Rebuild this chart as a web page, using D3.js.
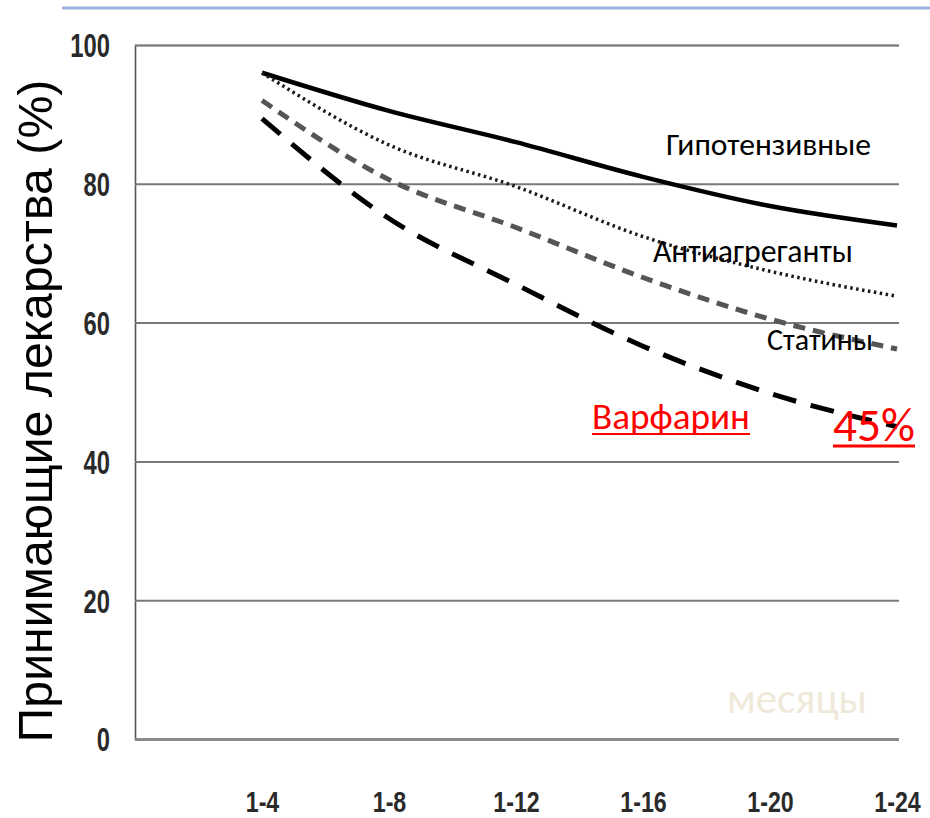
<!DOCTYPE html>
<html>
<head>
<meta charset="utf-8">
<script src="https://cdn.jsdelivr.net/npm/d3@7"></script>
<style>
  html, body { margin: 0; padding: 0; background: #fff; }
  svg { display: block; }
</style>
</head>
<body>
<svg id="chart" width="930" height="818"></svg>
<script>
// Share of patients still taking each drug class, by follow-up period
const months = ["1-4", "1-8", "1-12", "1-16", "1-20", "1-24"];
const yTicks = [0, 20, 40, 60, 80, 100];
const antihypertensive = [96, 90.5, 86, 81, 76.8, 74];
const antiplatelet = [96, 85.6, 79.6, 72.4, 67.4, 63.8];
const statins = [92, 80.6, 73.7, 66.5, 60.5, 56.2];
const warfarin = [89.4, 75, 65.5, 56.6, 49.8, 45];

const seriesNames = ["Гипотензивные", "Антиагреганты", "Статины", "Варфарин"];
const yTitle = "Принимающие лекарства (%)";
const xTitle = "месяцы";

const svg = d3.select("#chart");
const labelFont = "Carlito, Lato, 'Open Sans', sans-serif";
const tickFont = "'Liberation Sans Narrow', 'Liberation Sans', Arial, sans-serif";

const x = d3.scalePoint().domain(months).range([262, 897]);
const y = d3.scaleLinear().domain([0, 100]).range([739, 45]);
const plotLeft = 135, plotRight = 899;

// scale a text element's font size so its rendered width hits a target
function fitWidth(sel, target) {
  const node = sel.node();
  const fs = parseFloat(sel.attr("font-size"));
  const len = node.getComputedTextLength();
  sel.attr("font-size", fs * target / len);
  return sel;
}

// squeeze tick glyphs horizontally into a narrow face
function condense(sel, k) {
  sel.each(function () {
    const len = this.getComputedTextLength();
    d3.select(this)
      .attr("textLength", len * k)
      .attr("lengthAdjust", "spacingAndGlyphs");
  });
}

// thin header rule
svg.append("line")
  .attr("x1", 62).attr("x2", 930).attr("y1", 8).attr("y2", 8)
  .attr("stroke", "#9cb4dc").attr("stroke-width", 3);

// horizontal gridlines
const yAxis = d3.axisLeft(y).tickValues(yTicks).tickSize(-(plotRight - plotLeft)).tickPadding(25);
const gy = svg.append("g").attr("transform", `translate(${plotLeft},0)`).call(yAxis);
gy.select(".domain").attr("stroke", "#555").attr("stroke-width", 1.6);
gy.selectAll(".tick line")
  .attr("stroke", d => d === 0 ? "#8a8a8a" : "#7a7a7a")
  .attr("stroke-width", d => d === 0 ? 3 : 2);
gy.selectAll(".tick text")
  .attr("font-family", tickFont)
  .attr("font-weight", "bold")
  .attr("font-size", 33)
  .attr("fill", "#2a2a2a")
  .attr("dy", "0.36em")
  .call(condense, 0.72);

// month labels under the plot
const xAxis = d3.axisBottom(x).tickSize(0).tickPadding(0);
const gx = svg.append("g").attr("transform", "translate(0,790)").call(xAxis);
gx.select(".domain").remove();
gx.selectAll(".tick text")
  .attr("font-family", tickFont)
  .attr("font-weight", "bold")
  .attr("font-size", 29)
  .attr("fill", "#2a2a2a")
  .attr("dy", "0.36em")
  .attr("y", 12)
  .call(condense, 0.8);

// series lines
const line = d3.line()
  .x((d, i) => x(months[i]))
  .y(d => y(d))
  .curve(d3.curveMonotoneX);

const styles = [
  { data: antihypertensive, stroke: "#000", width: 4.5, dash: null },
  { data: antiplatelet, stroke: "#1a1a1a", width: 3.5, dash: "2.5,3.5" },
  { data: statins, stroke: "#555", width: 5, dash: "12,8" },
  { data: warfarin, stroke: "#000", width: 5, dash: "24,15" }
];
styles.forEach(s => {
  svg.append("path")
    .attr("d", line(s.data))
    .attr("fill", "none")
    .attr("stroke", s.stroke)
    .attr("stroke-width", s.width)
    .attr("stroke-dasharray", s.dash)
    .attr("stroke-linecap", "butt")
    .attr("stroke-linejoin", "round");
});

// series labels
const labelSpecs = [
  { text: seriesNames[0], x: 666, y: 155, w: 205, color: "#000" },
  { text: seriesNames[1], x: 653, y: 262, w: 200, color: "#000" },
  { text: seriesNames[2], x: 767, y: 350, w: 106, color: "#000" },
  { text: seriesNames[3], x: 592, y: 429, w: 158, color: "#ff0000", underline: 434, uw: 2 },
  { text: `${warfarin[warfarin.length - 1]}%`, x: 833, y: 441, w: 82, color: "#ff0000", underline: 446, uw: 3 }
];
labelSpecs.forEach(l => {
  const t = svg.append("text")
    .attr("x", l.x).attr("y", l.y)
    .attr("font-family", labelFont)
    .attr("font-size", 24)
    .attr("fill", l.color)
    .text(l.text);
  fitWidth(t, l.w);
  if (l.underline) {
    svg.append("line")
      .attr("x1", l.x).attr("x2", l.x + l.w)
      .attr("y1", l.underline).attr("y2", l.underline)
      .attr("stroke", l.color).attr("stroke-width", l.uw);
  }
});

// x-axis caption, very faint
const xt = svg.append("text")
  .attr("x", 727).attr("y", 713)
  .attr("font-family", labelFont)
  .attr("font-size", 36)
  .attr("fill", "#efe9da")
  .text(xTitle);
fitWidth(xt, 140);

// y-axis title
const yt = svg.append("text")
  .attr("transform", "translate(52,411) rotate(-90)")
  .attr("text-anchor", "middle")
  .attr("font-family", "'Liberation Sans', Arial, sans-serif")
  .attr("font-size", 46)
  .attr("fill", "#000")
  .text(yTitle);
fitWidth(yt, 663);
</script>
</body>
</html>
